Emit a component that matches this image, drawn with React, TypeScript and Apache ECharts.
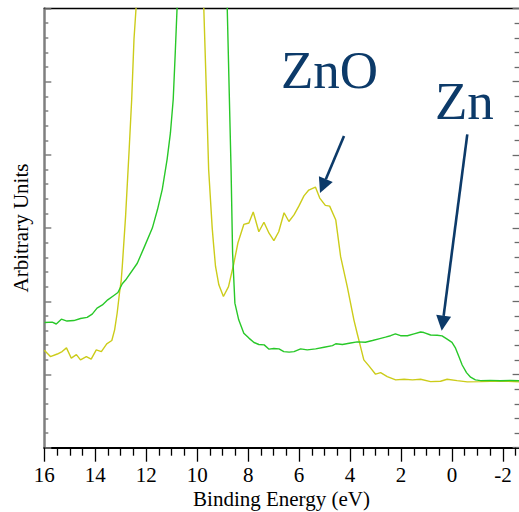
import React, { useEffect, useRef } from "react";
import * as echarts from "echarts";

// Zn (green) spectrum: binding energy (eV) and intensity (arb. units)
const znEnergy = [
  15.99, 15.69, 15.53, 15.33, 15.11, 14.84, 14.58, 14.32, 14.12, 13.93, 13.72, 13.51, 13.27, 13.11,
  12.94, 12.81, 12.35, 12.09, 11.76, 11.56, 11.37, 11.18, 11.05, 10.94, 10.86, 10.79, 10.6, 9.1,
  8.82, 8.67, 8.61, 8.52, 8.37, 8.17, 7.97, 7.77, 7.58, 7.37, 7.18, 6.99, 6.79, 6.6, 6.39, 6.2,
  5.94, 5.68, 5.35, 5.02, 4.69, 4.56, 4.3, 3.98, 3.72, 3.4, 3.12, 2.87, 2.61, 2.41, 2.22, 2.02,
  1.75, 1.49, 1.23, 1.1, 0.84, 0.58, 0.39, 0.19, 0.0, -0.14, -0.27, -0.4, -0.57, -0.73, -0.92,
  -1.12, -1.5, -1.9, -2.3, -2.65,
];
const znValue = [
  1.71, 1.715, 1.69, 1.756, 1.73, 1.737, 1.765, 1.78, 1.825, 1.907, 1.95, 2.02, 2.08, 2.12,
  2.24, 2.29, 2.52, 2.73, 3.0, 3.25, 3.53, 3.94, 4.3, 4.76, 5.4, 6.0, 7.5, 7.5,
  6.0, 3.8, 2.66, 1.975, 1.747, 1.565, 1.497, 1.437, 1.41, 1.405, 1.346, 1.355, 1.35, 1.313, 1.305, 1.313,
  1.35, 1.336, 1.35, 1.373, 1.395, 1.42, 1.41, 1.43, 1.446, 1.44, 1.464, 1.487, 1.51, 1.53, 1.555, 1.53,
  1.53, 1.555, 1.58, 1.573, 1.54, 1.537, 1.528, 1.483, 1.44, 1.36, 1.245, 1.13, 1.026, 0.963, 0.926,
  0.917, 0.92, 0.915, 0.918, 0.915,
];

// ZnO (yellow) spectrum
const znoEnergy = [
  16.0, 15.76, 15.49, 15.3, 15.13, 14.94, 14.74, 14.58, 14.35, 14.16, 13.96, 13.76, 13.55, 13.35,
  13.24, 13.14, 13.05, 12.98, 12.94, 12.81, 12.67, 12.57, 12.48, 12.4, 12.2, 10.0,
  9.74, 9.63, 9.55, 9.41, 9.35, 9.28, 9.15, 8.97, 8.77, 8.56, 8.4, 8.17, 7.97, 7.8, 7.58, 7.38,
  7.18, 6.99, 6.8, 6.59, 6.4, 6.2, 6.01, 5.81, 5.62, 5.36, 5.19, 4.97, 4.8, 4.56, 4.37, 4.11,
  3.85, 3.72, 3.59, 3.46, 3.26, 3.0, 2.8, 2.54, 2.21, 1.88, 1.55, 1.23, 0.84, 0.45, 0.19, -0.2,
  -0.6, -1.12, -1.9, -2.65,
];
const znoValue = [
  1.33, 1.245, 1.28, 1.313, 1.364, 1.223, 1.272, 1.2, 1.245, 1.209, 1.336, 1.313, 1.418, 1.464,
  1.61, 1.84, 2.11, 2.29, 2.476, 3.16, 4.07, 4.76, 5.58, 6.0, 7.5, 7.5,
  6.0, 4.76, 3.8, 3.0, 2.75, 2.476, 2.226, 2.066, 2.2, 2.52, 2.8, 3.05, 3.07, 3.22, 2.95, 3.08,
  2.93, 2.83, 2.95, 3.21, 3.09, 3.18, 3.3, 3.44, 3.52, 3.56, 3.41, 3.31, 3.3, 3.11, 2.61, 2.2,
  1.747, 1.56, 1.38, 1.2, 1.118, 1.004, 1.026, 0.971, 0.926, 0.935, 0.926, 0.935, 0.903, 0.908, 0.935, 0.917,
  0.899, 0.903, 0.912, 0.899,
];

const xMin = -4;
const xMax = 16;
const xStep = 2;
const xVisibleMin = -2.65;
const yMin = 0;
const yMax = 6;
const yStep = 1;

const xTitle = "Binding Energy (eV)";
const yTitle = "Arbitrary Units";
const labelZnO = "ZnO";
const labelZn = "Zn";

const FONT = "Liberation Serif, serif";
const NAVY = "#0c3a69";

function pairs(xs: number[], ys: number[]) {
  return xs.map((x, i) => [x, ys[i]]);
}

export default function App() {
  const ref = useRef<HTMLDivElement>(null);
  useEffect(() => {
    const chart = echarts.init(ref.current!, null, { renderer: "svg" });
    const gridLeft = 44.3;
    const gridTop = 8.5;
    const gridHeight = 439.2;
    const pxPerUnit = 25.48;
    const gridWidth = (xMax - xMin) * pxPerUnit;
    const rightAxisOffset = 519.6 - (gridLeft + gridWidth);

    const headPts = (x1: number, y1: number, tx: number, ty: number, len: number, half: number) => {
      const dx = tx - x1;
      const dy = ty - y1;
      const d = Math.sqrt(dx * dx + dy * dy);
      const ux = dx / d;
      const uy = dy / d;
      const bx = tx - ux * len;
      const by = ty - uy * len;
      const nx = -uy * half;
      const ny = ux * half;
      return {
        base: [bx, by],
        pts: [
          [tx, ty],
          [bx + nx, by + ny],
          [bx - nx, by - ny],
        ],
      };
    };
    const a1 = headPts(344, 136, 320, 193, 15, 7.5);
    const a2 = headPts(467.3, 134.3, 441.7, 330.7, 15, 7.5);

    chart.setOption({
      animation: false,
      backgroundColor: "#ffffff",
      grid: {
        left: gridLeft,
        top: gridTop,
        width: gridWidth,
        height: gridHeight,
        containLabel: false,
        outerBoundsMode: "none",
      },
      xAxis: [
        {
          type: "value",
          inverse: true,
          min: xMin,
          max: xMax,
          interval: xStep,
          position: "bottom",
          axisLine: { show: true, onZero: false, lineStyle: { color: "#000", width: 1.8 } },
          axisTick: { show: true, inside: false, length: 14, lineStyle: { color: "#000", width: 1.3 } },
          minorTick: { show: true, splitNumber: 4, length: 8, lineStyle: { color: "#000", width: 1.3 } },
          axisLabel: {
            show: true,
            fontFamily: FONT,
            fontSize: 21,
            color: "#000",
            margin: 17,
            formatter: (v: number) => (v < xVisibleMin ? "" : String(v)),
          },
          splitLine: { show: false },
          minorSplitLine: { show: false },
        },
        {
          type: "value",
          inverse: true,
          min: xMin,
          max: xMax,
          interval: xStep,
          position: "top",
          axisLine: { show: true, onZero: false, lineStyle: { color: "#000", width: 1.3 } },
          axisTick: { show: false },
          axisLabel: { show: false },
          splitLine: { show: false },
        },
      ],
      yAxis: [
        {
          type: "value",
          min: yMin,
          max: yMax,
          interval: yStep,
          position: "left",
          axisLine: { show: true, onZero: false, lineStyle: { color: "#7f7f7f", width: 2.5 } },
          axisTick: { show: true, inside: true, length: 7, lineStyle: { color: "#7f7f7f", width: 1.5 } },
          minorTick: { show: true, splitNumber: 5, length: 4, lineStyle: { color: "#7f7f7f", width: 1.5 } },
          axisLabel: { show: false },
          splitLine: { show: false },
        },
        {
          type: "value",
          min: yMin,
          max: yMax,
          interval: yStep,
          position: "right",
          offset: rightAxisOffset,
          axisLine: { show: false, onZero: false },
          axisTick: { show: true, inside: true, length: 7, lineStyle: { color: "#6a6a6a", width: 1.3 } },
          minorTick: { show: true, splitNumber: 5, length: 5, lineStyle: { color: "#6a6a6a", width: 1.3 } },
          axisLabel: { show: false },
          splitLine: { show: false },
        },
      ],
      series: [
        {
          name: "Zn",
          type: "line",
          xAxisIndex: 0,
          yAxisIndex: 0,
          data: pairs(znEnergy, znValue),
          symbol: "none",
          showSymbol: false,
          lineStyle: { color: "#28c828", width: 1.4 },
          clip: true,
          z: 3,
        },
        {
          name: "ZnO",
          type: "line",
          xAxisIndex: 0,
          yAxisIndex: 0,
          data: pairs(znoEnergy, znoValue),
          symbol: "none",
          showSymbol: false,
          lineStyle: { color: "#cccc1a", width: 1.4 },
          clip: true,
          z: 2,
        },
      ],
      graphic: [
        {
          type: "text",
          x: 281.5,
          y: 499,
          style: { text: xTitle, fontFamily: FONT, fontSize: 21, fill: "#000", align: "center", verticalAlign: "middle" },
        },
        {
          type: "text",
          x: 21,
          y: 228,
          rotation: Math.PI / 2,
          style: { text: yTitle, fontFamily: FONT, fontSize: 21, fill: "#000", align: "center", verticalAlign: "middle" },
        },
        {
          type: "text",
          x: 281,
          y: 70,
          style: { text: labelZnO, fontFamily: FONT, fontSize: 53, fill: NAVY, align: "left", verticalAlign: "middle" },
        },
        {
          type: "text",
          x: 435,
          y: 100.5,
          style: { text: labelZn, fontFamily: FONT, fontSize: 53, fill: NAVY, align: "left", verticalAlign: "middle" },
        },
        {
          type: "line",
          shape: { x1: 344, y1: 136, x2: a1.base[0], y2: a1.base[1] },
          style: { stroke: NAVY, lineWidth: 2.6 },
        },
        { type: "polygon", shape: { points: a1.pts }, style: { fill: NAVY } },
        {
          type: "line",
          shape: { x1: 467.3, y1: 134.3, x2: a2.base[0], y2: a2.base[1] },
          style: { stroke: NAVY, lineWidth: 2.6 },
        },
        { type: "polygon", shape: { points: a2.pts }, style: { fill: NAVY } },
      ],
    });
    return () => chart.dispose();
  }, []);
  return (
    <div
      ref={ref}
      style={{ position: "fixed", left: 0, top: 0, width: 519, height: 512, background: "#fff" }}
    />
  );
}
